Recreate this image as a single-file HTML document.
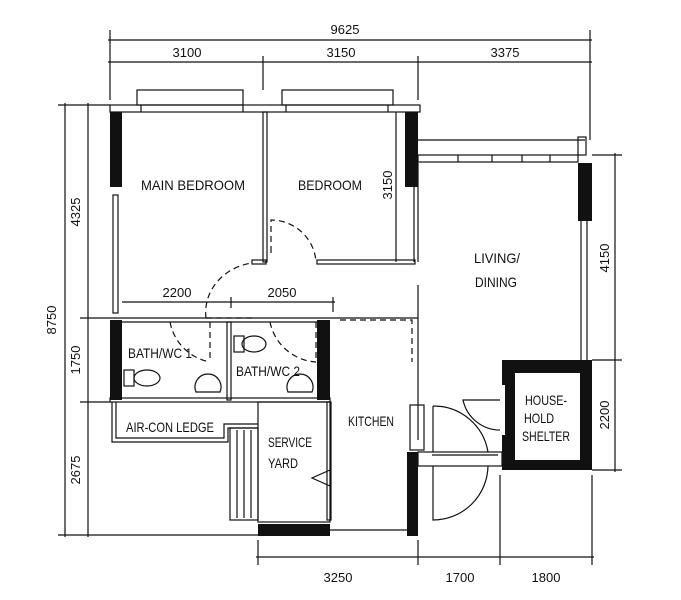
<!DOCTYPE html>
<html><head><meta charset="utf-8"><style>
html,body{margin:0;padding:0;background:#fff}
svg{display:block}
text{font-family:"Liberation Sans",sans-serif;fill:#111}
</style></head><body>
<svg width="681" height="600" viewBox="0 0 681 600" xmlns="http://www.w3.org/2000/svg">
<g stroke="#111" stroke-width="1.2" fill="none">
<!-- top dims -->
<line x1="108" y1="40" x2="592" y2="40"/>
<line x1="108" y1="62" x2="592" y2="62"/>
<line x1="110" y1="30" x2="110" y2="100"/>
<line x1="263" y1="56" x2="263" y2="90"/>
<line x1="418" y1="56" x2="418" y2="100"/>
<line x1="590" y1="30" x2="590" y2="140"/>
<!-- left dims -->
<line x1="65" y1="103" x2="65" y2="537"/>
<line x1="88" y1="103" x2="88" y2="537"/>
<line x1="58" y1="105" x2="110" y2="105"/>
<line x1="80" y1="318" x2="110" y2="318"/>
<line x1="80" y1="402" x2="110" y2="402"/>
<line x1="58" y1="535" x2="258" y2="535"/>
<!-- right dims -->
<line x1="615" y1="153" x2="615" y2="472"/>
<line x1="592" y1="155" x2="622" y2="155"/>
<line x1="592" y1="360" x2="622" y2="360"/>
<line x1="592" y1="470" x2="622" y2="470"/>
<!-- bottom dims -->
<line x1="256" y1="557" x2="594" y2="557"/>
<line x1="258" y1="540" x2="258" y2="565"/>
<line x1="418" y1="540" x2="418" y2="565"/>
<line x1="500" y1="475" x2="500" y2="565"/>
<line x1="592" y1="475" x2="592" y2="565"/>
<!-- inner dim -->
<line x1="122" y1="302" x2="335" y2="302"/>
<line x1="231" y1="297" x2="231" y2="308"/>
<line x1="333" y1="297" x2="333" y2="312"/>
<line x1="396" y1="112" x2="396" y2="262"/>

<!-- windows top -->
<rect x="137" y="90" width="106" height="15"/>
<rect x="282" y="90" width="111" height="15"/>
<rect x="110" y="105" width="310" height="7"/>
<line x1="141" y1="105" x2="141" y2="112"/><line x1="243" y1="105" x2="243" y2="112"/>
<line x1="286" y1="105" x2="286" y2="112"/><line x1="388" y1="105" x2="388" y2="112"/>
<!-- partitions -->
<rect x="263" y="112" width="4" height="150"/>
<rect x="317" y="260" width="98" height="4"/>
<rect x="252" y="260" width="14" height="4"/>
<!-- left window -->
<rect x="113" y="195" width="5" height="118"/>
<!-- bath walls -->
<line x1="110" y1="318" x2="418" y2="318"/>
<line x1="110" y1="322" x2="330" y2="322"/>
<rect x="227" y="322" width="4" height="78"/>
<rect x="110" y="398" width="220" height="4"/>
<!-- air-con ledge -->
<path d="M112 402 V442 H228 V428 H258"/>
<path d="M116 402 V438 H224 V424 H258"/>
<!-- rack -->
<rect x="230" y="428" width="28" height="92"/>
<line x1="237" y1="430" x2="237" y2="518"/><line x1="244" y1="430" x2="244" y2="518"/><line x1="251" y1="430" x2="251" y2="518"/>
<!-- service yard -->
<rect x="258" y="402" width="72" height="120"/>
<rect x="327" y="402" width="4" height="118"/>
<path d="M330 470 L312 478 L330 486"/>
<line x1="258" y1="530" x2="418" y2="530"/>
<!-- kitchen right -->
<line x1="418" y1="163" x2="418" y2="262"/>
<line x1="414" y1="112" x2="414" y2="262"/>
<line x1="418" y1="285" x2="418" y2="440"/>
<rect x="410" y="405" width="14" height="45"/>
<!-- living top -->
<line x1="418" y1="140" x2="585" y2="140"/>
<rect x="418" y="155" width="160" height="7"/>
<rect x="578" y="137" width="8" height="18"/>
<line x1="458" y1="155" x2="458" y2="162"/><line x1="492" y1="155" x2="492" y2="162"/><line x1="522" y1="155" x2="522" y2="162"/><line x1="550" y1="155" x2="550" y2="162"/>
<!-- living right -->
<rect x="581" y="220" width="6" height="142"/>
<!-- entrance -->
<rect x="418" y="452" width="84" height="14"/>
<line x1="432" y1="455" x2="498" y2="455"/>
<path d="M433 406 A55 55 0 0 1 488 452 M433 406 V452"/>
<path d="M433 466 V520 A55 55 0 0 0 488 466"/>
<path d="M502 400 H463 A38 38 0 0 0 502 430"/>
<!-- doors dashed -->
<g stroke-dasharray="6,4">
<path d="M271 253 V252 M271 252 V220 A45 45 0 0 1 316 262"/>
<path d="M206 318 A55 50 0 0 1 252 263 M206 318 H252"/>
<path d="M170 322 A50 50 0 0 0 210 362 M210 322 V362"/>
<path d="M270 322 A50 50 0 0 0 316 362 M316 322 V362"/>
<path d="M340 320 H412 V362"/>
</g>
<!-- fixtures -->
<ellipse cx="147" cy="378" rx="13" ry="8"/><rect x="124" y="370" width="10" height="16"/>
<ellipse cx="254" cy="344" rx="12" ry="8"/><rect x="234" y="336" width="10" height="16"/>
<path d="M196 392 A13 13 0 1 1 220 392 Z"/>
<path d="M288 392 A13 13 0 1 1 312 392 Z"/>
</g>
<!-- black walls -->
<g fill="#111">
<rect x="110" y="112" width="12" height="75"/>
<rect x="405" y="112" width="13" height="75"/>
<rect x="110" y="320" width="12" height="80"/>
<rect x="317" y="320" width="13" height="80"/>
<rect x="578" y="163" width="14" height="58"/>
<rect x="258" y="524" width="72" height="12"/>
<rect x="407" y="452" width="11" height="84"/>
<path d="M502 360 H592 V470 H502 Z M515 373 V460 H580 V373 Z" fill-rule="evenodd"/>
</g>
<rect x="500" y="385" width="5" height="50" fill="#fff"/>
<!-- text -->
<g font-size="13" text-anchor="middle">
<text x="345" y="34">9625</text>
<text x="187" y="57">3100</text>
<text x="341" y="57">3150</text>
<text x="505" y="57">3375</text>
<text x="177" y="297">2200</text>
<text x="282" y="297">2050</text>
<text x="338" y="582">3250</text>
<text x="460" y="582">1700</text>
<text x="546" y="582">1800</text>
<text transform="translate(56,320) rotate(-90)">8750</text>
<text transform="translate(80,212) rotate(-90)">4325</text>
<text transform="translate(80,360) rotate(-90)">1750</text>
<text transform="translate(80,470) rotate(-90)">2675</text>
<text transform="translate(392,185) rotate(-90)">3150</text>
<text transform="translate(609,258) rotate(-90)">4150</text>
<text transform="translate(609,415) rotate(-90)">2200</text>
</g>
<g font-size="14" text-anchor="middle">
<text x="193" y="190" textLength="104" lengthAdjust="spacingAndGlyphs">MAIN BEDROOM</text>
<text x="330" y="190" textLength="64" lengthAdjust="spacingAndGlyphs">BEDROOM</text>
<text x="497" y="263" textLength="46" lengthAdjust="spacingAndGlyphs">LIVING/</text>
<text x="496" y="287" textLength="42" lengthAdjust="spacingAndGlyphs">DINING</text>
<text x="160" y="358" textLength="64" lengthAdjust="spacingAndGlyphs">BATH/WC 1</text>
<text x="268" y="376" textLength="64" lengthAdjust="spacingAndGlyphs">BATH/WC 2</text>
<text x="371" y="426" textLength="46" lengthAdjust="spacingAndGlyphs">KITCHEN</text>
<text x="290" y="447" textLength="44" lengthAdjust="spacingAndGlyphs">SERVICE</text>
<text x="283" y="468" textLength="30" lengthAdjust="spacingAndGlyphs">YARD</text>
<text x="170" y="432" textLength="88" lengthAdjust="spacingAndGlyphs">AIR-CON LEDGE</text>
<text x="546" y="405" textLength="42" lengthAdjust="spacingAndGlyphs">HOUSE-</text>
<text x="539" y="423" textLength="30" lengthAdjust="spacingAndGlyphs">HOLD</text>
<text x="546" y="441" textLength="48" lengthAdjust="spacingAndGlyphs">SHELTER</text>
</g>
</svg>
</body></html>
